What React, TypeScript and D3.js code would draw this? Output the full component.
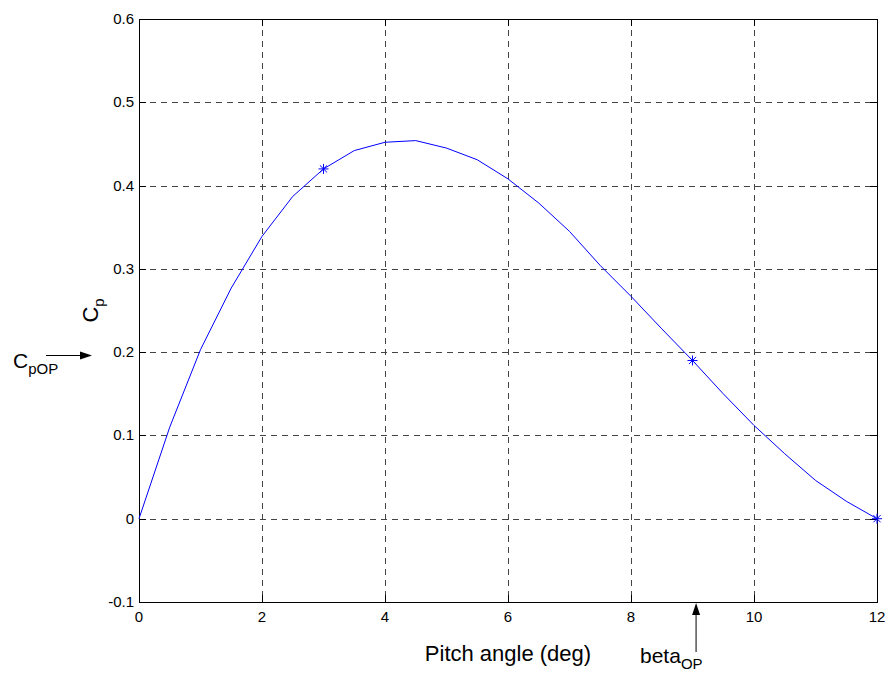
import React from "react";
import * as d3 from "d3";

const pitch = [0, 0.5, 1, 1.5, 2, 2.5, 3, 3.5, 4, 4.5, 5, 5.5, 6, 6.5, 7, 7.5, 8, 8.5, 9, 9.5, 10, 10.5, 11, 11.5, 12];
const cp = [0, 0.11, 0.203, 0.277, 0.339, 0.387, 0.42, 0.442, 0.452, 0.454, 0.445, 0.431, 0.408, 0.379, 0.345, 0.304, 0.267, 0.228, 0.19, 0.15, 0.112, 0.078, 0.046, 0.021, 0];
const markerX = [3, 9, 12];
const markerY = [0.42, 0.19, 0];
const xTicks = [0, 2, 4, 6, 8, 10, 12];
const yTicks = [-0.1, 0, 0.1, 0.2, 0.3, 0.4, 0.5, 0.6];
const yTickLabels = ["-0.1", "0", "0.1", "0.2", "0.3", "0.4", "0.5", "0.6"];
const betaOP = 9.05;

const W = 885, H = 675;
const L = 139, R = 877, T = 19, B = 602;
const FONT = "'Liberation Sans', Arial, Helvetica, sans-serif";

export default function App() {
  const x = d3.scaleLinear().domain([0, 12]).range([L, R]);
  const y = d3.scaleLinear().domain([-0.1, 0.6]).range([B, T]);
  const line = d3.line<number>().x((_, i) => x(pitch[i])).y((d) => y(d));
  const tl = 7;
  const star = (cx: number, cy: number, k: number) => {
    const s = 5;
    const d2 = s * 0.72;
    return (
      <g key={k} stroke="#0000ff" strokeWidth={1}>
        <line x1={cx - s} y1={cy} x2={cx + s} y2={cy} />
        <line x1={cx} y1={cy - s} x2={cx} y2={cy + s} />
        <line x1={cx - d2} y1={cy - d2} x2={cx + d2} y2={cy + d2} />
        <line x1={cx - d2} y1={cy + d2} x2={cx + d2} y2={cy - d2} />
      </g>
    );
  };
  return (
    <svg width={W} height={H} style={{ position: "absolute", left: 0, top: 0, background: "#fff" }} fontFamily={FONT}>
      <rect x={0} y={0} width={W} height={H} fill="#fff" />
      <g stroke="#444" strokeWidth={1} strokeDasharray="6,5">
        {xTicks.slice(1, -1).map((t) => (
          <line key={"gx" + t} x1={x(t) + 0.5} x2={x(t) + 0.5} y1={T} y2={B} />
        ))}
        {yTicks.slice(1, -1).map((t) => (
          <line key={"gy" + t} x1={L} x2={R} y1={Math.round(y(t)) + 0.5} y2={Math.round(y(t)) + 0.5} />
        ))}
      </g>
      <g stroke="#000" strokeWidth={1}>
        {xTicks.map((t) => (
          <g key={"tx" + t}>
            <line x1={x(t) + 0.5} x2={x(t) + 0.5} y1={B} y2={B - tl} />
            <line x1={x(t) + 0.5} x2={x(t) + 0.5} y1={T} y2={T + tl} />
          </g>
        ))}
        {yTicks.map((t) => (
          <g key={"ty" + t}>
            <line x1={L} x2={L + tl} y1={Math.round(y(t)) + 0.5} y2={Math.round(y(t)) + 0.5} />
            <line x1={R} x2={R - tl} y1={Math.round(y(t)) + 0.5} y2={Math.round(y(t)) + 0.5} />
          </g>
        ))}
      </g>
      <rect x={L + 0.5} y={T + 0.5} width={R - L} height={B - T} fill="none" stroke="#000" strokeWidth={1} />
      <path d={line(cp) || ""} fill="none" stroke="#0000ff" strokeWidth={1} />
      {markerX.map((mx, i) => star(x(mx), y(markerY[i]), i))}
      <g fontSize={15} fill="#000">
        {xTicks.map((t) => (
          <text key={"lx" + t} x={x(t)} y={622} textAnchor="middle">{t}</text>
        ))}
        {yTicks.map((t, i) => (
          <text key={"ly" + t} x={L - 5} y={y(t) + 5} textAnchor="end">{yTickLabels[i]}</text>
        ))}
      </g>
      <text x={(L + R) / 2} y={661} textAnchor="middle" fontSize={22}>Pitch angle (deg)</text>
      <text transform={`translate(98, ${(T + B) / 2}) rotate(-90)`} textAnchor="middle" fontSize={22}>
        C<tspan fontSize={15} dy={6}>p</tspan>
      </text>
      <text x={13} y={368} fontSize={21}>C<tspan fontSize={15} dy={6}>pOP</tspan></text>
      <line x1={46} y1={355.5} x2={82} y2={355.5} stroke="#000" strokeWidth={1} />
      <path d="M 92 355.5 L 80 351.5 L 80 359.5 Z" fill="#000" />
      <line x1={x(betaOP) + 0.5} y1={652} x2={x(betaOP) + 0.5} y2={612} stroke="#000" strokeWidth={1} />
      <path d={`M ${x(betaOP) + 0.5} ${B + 1} L ${x(betaOP) - 3.5} ${B + 13} L ${x(betaOP) + 4.5} ${B + 13} Z`} fill="#000" />
      <text x={640} y={663} fontSize={21}>beta<tspan fontSize={15} dy={6}>OP</tspan></text>
    </svg>
  );
}
